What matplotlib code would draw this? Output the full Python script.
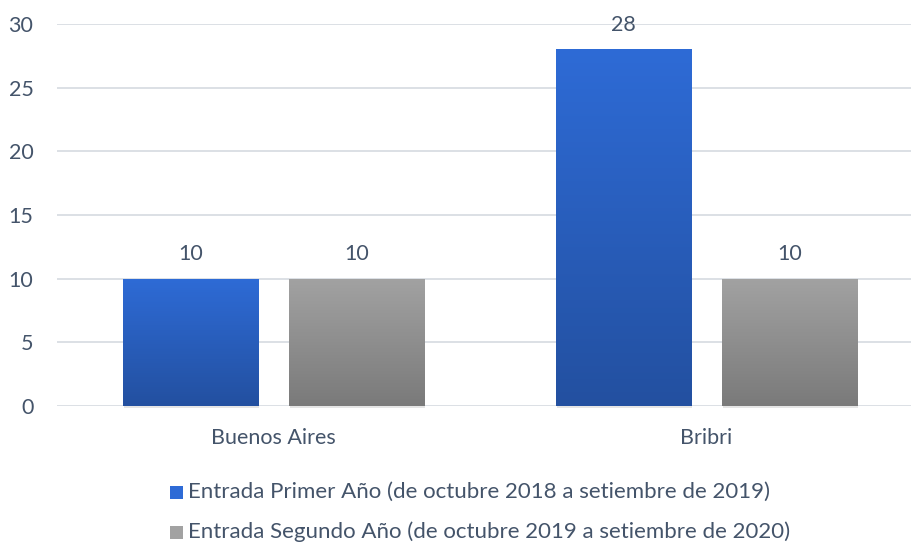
import matplotlib
matplotlib.use("Agg")
import matplotlib.pyplot as plt
import numpy as np
from matplotlib.colors import LinearSegmentedColormap
from matplotlib.patches import Rectangle

categories = ["Buenos Aires", "Bribri"]
primer_anio = [10, 28]
segundo_anio = [10, 10]
series_names = ["Entrada Primer Año (de octubre 2018 a setiembre de 2019)",
                "Entrada Segundo Año (de octubre 2019 a setiembre de 2020)"]
yticks = [0, 5, 10, 15, 20, 25, 30]

text_color = "#44546a"
grid_color = "#d9dde3"
blue_top, blue_bottom = "#2e6bd6", "#2350a0"
gray_top, gray_bottom = "#a2a2a2", "#7a7a7a"
fs = 15.5

plt.rcParams['font.family'] = ['Lato', 'DejaVu Sans']

fig = plt.figure(figsize=(9.12, 5.45), dpi=100)
ax = fig.add_axes([57 / 912, 139 / 545, 1 - 57 / 912, 382 / 545])

x = np.arange(len(categories))
width = 0.312
offset = 0.1917


def gradient_bars(bars, top, bottom):
    cmap = LinearSegmentedColormap.from_list("g", [bottom, top])
    grad = np.linspace(0, 1, 256).reshape(-1, 1)
    for b in bars:
        x0, y0 = b.get_x(), b.get_y()
        w, h = b.get_width(), b.get_height()
        im = ax.imshow(grad, extent=[x0, x0 + w, y0, y0 + h], origin="lower",
                       aspect="auto", cmap=cmap, zorder=3, interpolation="bicubic")
        im.set_clip_path(b)
        # soft shadow
        ax.add_patch(Rectangle((x0 + 0.002, y0 - 0.15), w, h, facecolor="#000000",
                               alpha=0.10, edgecolor="none", zorder=2, clip_on=False))


bars1 = ax.bar(x - offset, primer_anio, width, color=blue_top, zorder=3)
bars2 = ax.bar(x + offset, segundo_anio, width, color=gray_top, zorder=3)
gradient_bars(bars1, blue_top, blue_bottom)
gradient_bars(bars2, gray_top, gray_bottom)

for bars in (bars1, bars2):
    for b in bars:
        ax.text(b.get_x() + b.get_width() / 2, b.get_height() + 1.9, f"{int(b.get_height())}",
                ha="center", va="center", fontsize=fs, color=text_color, zorder=5)

ax.set_xlim(-0.5, 1.4746)
ax.set_ylim(0, 30)
ax.set_yticks(yticks)
ax.set_yticklabels([str(t) for t in yticks])
ax.set_xticks(x)
ax.set_xticklabels(categories)
ax.tick_params(axis="both", length=0, labelsize=fs, labelcolor=text_color)
ax.tick_params(axis="y", pad=17)
ax.tick_params(axis="x", pad=16)
ax.grid(axis="y", color=grid_color, linewidth=1.3, zorder=0)
for s in ax.spines.values():
    s.set_visible(False)

# legend
leg_y = [1 - 492 / 545, 1 - 532 / 545]
leg_colors = [blue_top, gray_top]
for name, c, y in zip(series_names, leg_colors, leg_y):
    fig.patches.append(Rectangle((170 / 912, y - 6.5 / 545), 13 / 912, 13 / 545,
                                 facecolor=c, edgecolor="none", transform=fig.transFigure))
    fig.text(188 / 912, y, name, ha="left", va="center", fontsize=16, color=text_color)

fig.savefig("out.png", dpi=100)
